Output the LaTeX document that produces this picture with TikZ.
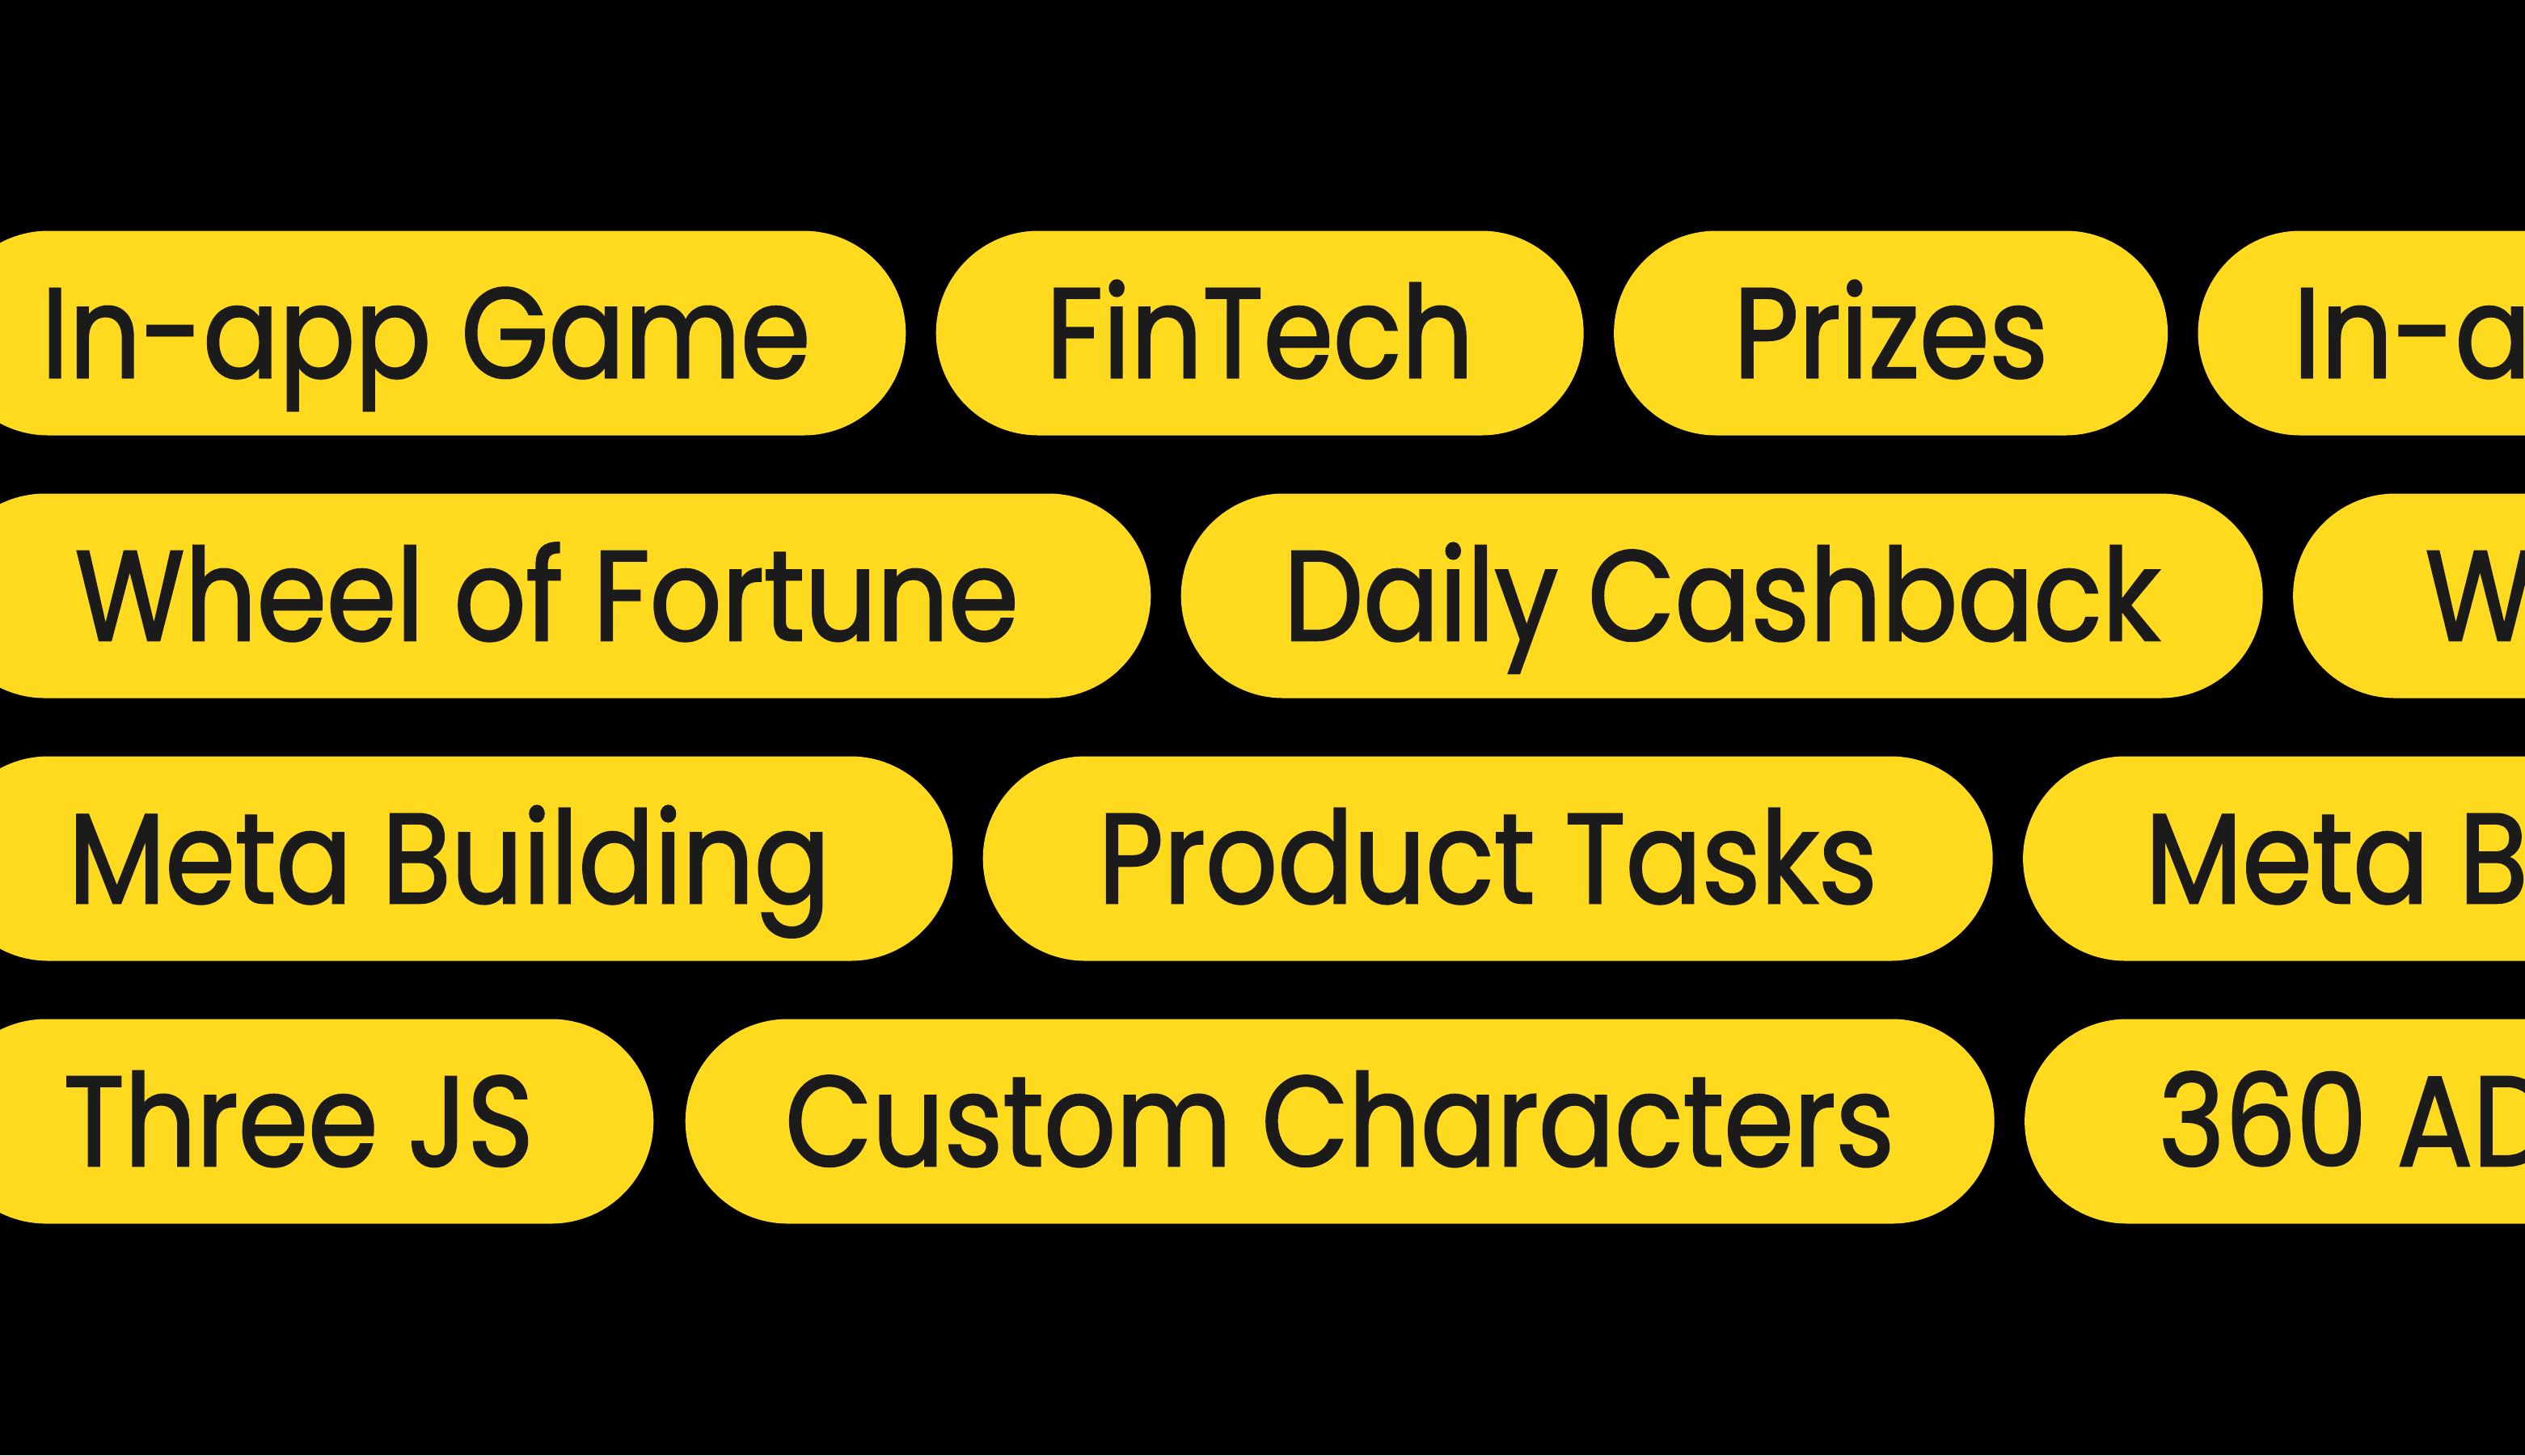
\documentclass[tikz,border=0pt]{standalone}
\usepackage{fontspec}
\setmainfont{Poppins}[FakeStretch=0.88, FakeBold=1.6]
\usetikzlibrary{positioning}
\definecolor{pillyellow}{HTML}{FFDA1F}
\definecolor{pillink}{HTML}{1B1B1B}

\begin{document}
\begin{tikzpicture}[
        node distance=0.36cm,
        pill/.style={fill=pillyellow, text=pillink, rounded corners=1.265cm,
          minimum height=2.53cm, inner sep=0pt, text height=1.1cm, text depth=0pt,
          font=\fontsize{45}{54}\selectfont}
        ]
        \fill[black] (0,0) rectangle (31.23,-18);
        \clip (0,0) rectangle (31.23,-18);

        % row 1
        \node[pill, minimum width=11.87cm, anchor=east] (game) at (11.21,-4.12) {In-app Game};
        \node[pill, minimum width=8.01cm]  (fintech) [right=of game]    {FinTech};
        \node[pill, minimum width=6.85cm]  (prizes)  [right=of fintech] {Prizes};
        \node[pill, minimum width=11.87cm] (game_2)  [right=of prizes]  {In-app Game};

        % row 2
        \node[pill, minimum width=14.94cm, anchor=east] (wheel) at (14.24,-7.37) {Wheel of Fortune};
        \node[pill, minimum width=13.38cm] (cashback) [right=of wheel]    {Daily Cashback};
        \node[pill, minimum width=14.94cm] (wheel_2)  [right=of cashback] {Wheel of Fortune};

        % row 3
        \node[pill, minimum width=12.45cm, anchor=east] (meta) at (11.79,-10.62) {Meta Building};
        \node[pill, minimum width=12.49cm] (tasks)  [right=of meta]  {Product Tasks};
        \node[pill, minimum width=12.45cm] (meta_2) [right=of tasks] {Meta Building};

        % row 4
        \node[pill, minimum width=8.78cm, anchor=east] (three) at (8.09,-13.87) {Three JS};
        \node[pill, minimum width=16.19cm] (characters) [right=0.38cm of three] {Custom Characters};
        \node[pill, minimum width=9cm]     (ads)        [right=of characters]  {360 ADS};
      \end{tikzpicture}
\end{document}
